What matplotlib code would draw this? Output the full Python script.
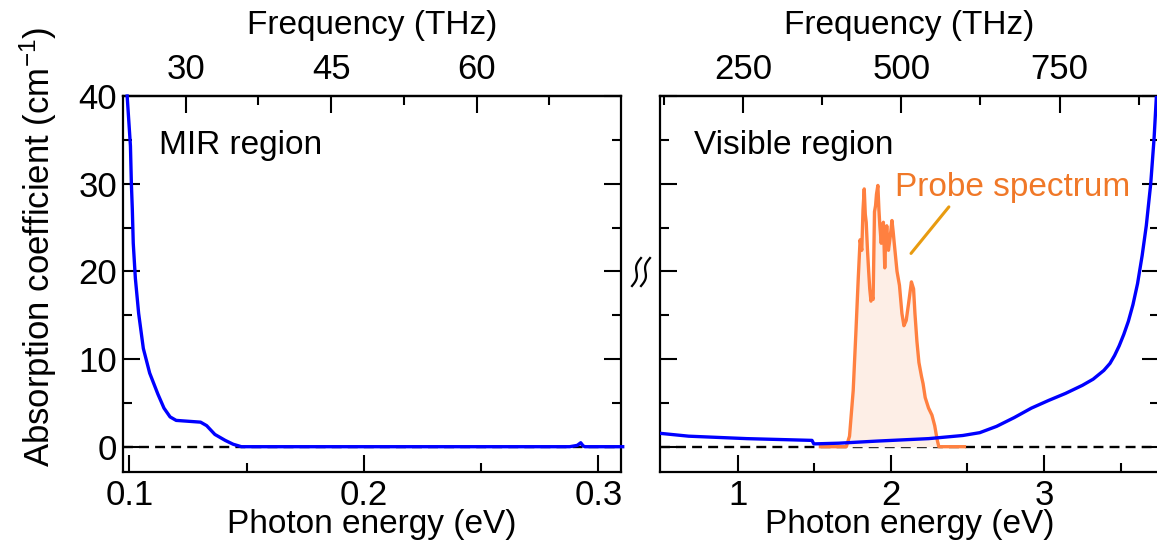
import numpy as np
import matplotlib
matplotlib.use("Agg")
import matplotlib.pyplot as plt
from matplotlib.lines import Line2D

plt.rcParams['font.family'] = ['Liberation Sans', 'DejaVu Sans']
plt.rcParams['mathtext.fontset'] = 'custom'
plt.rcParams['mathtext.rm'] = 'Liberation Sans'
plt.rcParams['mathtext.it'] = 'Liberation Sans:italic'

# ---- data ----
mir_energy = [0.0991, 0.1005, 0.1009, 0.1013, 0.1017, 0.1026, 0.104, 0.106, 0.1087,
              0.1122, 0.1148, 0.1174, 0.120, 0.1252, 0.1304, 0.133, 0.1365, 0.1409,
              0.1443, 0.1478, 0.20, 0.25, 0.2878, 0.2910, 0.2925, 0.2935, 0.2943, 0.3104]
mir_alpha = [40.0, 34.3, 30.0, 27.1, 23.2, 19.2, 15.2, 11.2, 8.4,
             6.0, 4.4, 3.4, 3.0, 2.9, 2.8, 2.4, 1.4, 0.72,
             0.28, 0.0, 0.0, 0.0, 0.0, 0.15, 0.45, 0.1, 0.0, 0.0]

vis_energy = [0.497, 0.68, 1.06, 1.485, 1.497, 1.66, 1.91, 2.246, 2.47, 2.58, 2.69,
              2.805, 2.917, 3.03, 3.14, 3.25, 3.32, 3.39, 3.43, 3.46, 3.49, 3.52,
              3.55, 3.58, 3.61, 3.64, 3.667, 3.696, 3.718, 3.733]
vis_alpha = [1.52, 1.2, 0.92, 0.72, 0.32, 0.4, 0.64, 0.92, 1.28, 1.6, 2.32,
             3.32, 4.4, 5.28, 6.08, 7.0, 7.7, 8.7, 9.5, 10.4, 11.5, 12.8,
             14.3, 16.2, 18.6, 21.8, 25.2, 30.0, 35.2, 40.0]

probe_energy = [1.54, 1.709, 1.73, 1.754, 1.772, 1.787, 1.799, 1.81, 1.818, 1.826, 1.833,
                1.839, 1.847, 1.855, 1.862, 1.87, 1.877, 1.884, 1.893, 1.900, 1.906,
                1.915, 1.922, 1.928, 1.937, 1.944, 1.951, 1.96, 1.966, 1.973,
                1.984, 1.996, 2.007, 2.015, 2.022, 2.04, 2.056, 2.072, 2.085, 2.1,
                2.116, 2.134, 2.148, 2.157, 2.17, 2.183, 2.2, 2.21, 2.224, 2.246,
                2.268, 2.286, 2.302, 2.313, 2.48]
probe_amp = [0.0, 0.0, 1.2, 6.4, 13.2, 19.2, 23.6, 22.4, 27.0, 29.4, 26.5,
             25.6, 22.5, 20.0, 18.0, 16.6, 17.2, 16.8, 26.8, 27.5, 28.8,
             29.8, 27.0, 25.2, 23.2, 25.0, 25.6, 20.4, 23.5, 25.2,
             22.4, 24.0, 25.8, 24.5, 23.2, 20.0, 18.4, 15.2, 13.8, 14.4,
             16.4, 18.8, 18.0, 15.2, 12.0, 9.6, 8.0, 7.2, 5.6, 4.4,
             3.6, 2.4, 0.8, 0.0, 0.0]

mir_freq_major = [30, 45, 60]
mir_freq_minor = [37.5, 52.5, 67.5]
vis_freq_major = [250, 500, 750]
vis_freq_minor = [125, 375, 625, 875]
THZ_PER_EV = 241.799

W, H = 1157, 547
fig = plt.figure(figsize=(W / 100, H / 100), dpi=100)

axL = fig.add_axes([122.7 / W, (H - 472.3) / H, 498.6 / W, 376.3 / H])
axR = fig.add_axes([660.0 / W, (H - 472.3) / H, 499.0 / W, 376.3 / H])

TFS = 25   # tick labels
LFS = 24   # axis labels / texts
BLUE = '#0000FF'
DASH = (0, (4.2, 2.6))

def style(ax):
    for s in ax.spines.values():
        s.set_linewidth(1.6)
    ax.tick_params(which='both', direction='in', left=True, right=True,
                   top=False, bottom=True, width=1.5, labelsize=TFS)
    ax.tick_params(which='major', length=12)
    ax.tick_params(which='minor', length=6.5)
    ax.set_ylim(-2.92, 40)
    ax.set_yticks([0, 10, 20, 30, 40])
    ax.set_yticks([5, 15, 25, 35], minor=True)

def top_axis(ax, major, minor):
    sec = ax.secondary_xaxis('top', functions=(lambda e: e * THZ_PER_EV,
                                                lambda f: f / THZ_PER_EV))
    sec.set_xticks(major)
    sec.set_xticks(minor, minor=True)
    sec.tick_params(which='both', direction='in', width=1.5, labelsize=TFS, pad=7)
    sec.tick_params(which='major', length=12)
    sec.tick_params(which='minor', length=6.5)
    sec.spines['top'].set_linewidth(1.6)
    sec.set_xlabel('Frequency (THz)', fontsize=LFS, labelpad=14)
    return sec

# ---- left panel (MIR) ----
style(axL)
axL.set_xlim(0.0972, 0.3098)
axL.set_xticks([0.1, 0.2, 0.3])
axL.set_xticklabels(['0.1', '0.2', '0.3'])
axL.set_xticks([0.15, 0.25], minor=True)
axL.tick_params(axis='y', pad=4)
axL.axhline(0, color='black', lw=1.7, ls=DASH, zorder=1)
axL.plot(mir_energy, mir_alpha, color=BLUE, lw=2.4, zorder=3, clip_on=False)
axL.set_xlabel('Photon energy (eV)', fontsize=LFS, labelpad=-2)
axL.set_ylabel('Absorption coefficient (cm$^{-1}$)', fontsize=25)
axL.yaxis.set_label_coords(-0.127, 0.6)
axL.tick_params(axis='x', pad=5)
top_axis(axL, mir_freq_major, mir_freq_minor)
axL.text(0.1128, 34.3, 'MIR region', fontsize=LFS, va='center', ha='left')

# ---- right panel (visible) ----
style(axR)
axR.set_xlim(0.493, 3.75)
axR.set_xticks([1, 2, 3])
axR.set_xticks([1.5, 2.5, 3.5], minor=True)
axR.tick_params(axis='y', labelleft=False)
axR.tick_params(axis='x', pad=5)
axR.axhline(0, color='black', lw=1.7, ls=DASH, zorder=1)
axR.fill_between(probe_energy, 0, probe_amp, color='#FDEEE6', lw=0, zorder=1.5)
axR.plot(probe_energy, probe_amp, color='#FF8040', lw=2.4, zorder=2)
axR.plot(vis_energy, vis_alpha, color=BLUE, lw=2.4, zorder=3)
axR.set_xlabel('Photon energy (eV)', fontsize=LFS, labelpad=-2)
top_axis(axR, vis_freq_major, vis_freq_minor)
axR.text(0.712, 34.3, 'Visible region', fontsize=LFS, va='center', ha='left')
axR.text(2.03, 29.6, 'Probe spectrum', fontsize=LFS, va='center', ha='left', color='#F07828')
axR.annotate('', xy=(2.12, 21.8), xytext=(2.39, 27.6),
             arrowprops=dict(arrowstyle='-', color='#E89B10', lw=2.2))

# ---- axis break symbol between panels ----
for dx in (-4.5, 4.5):
    t = np.linspace(-1, 1, 40)
    xs = 641 + dx - 4.5 * t + 2.2 * np.sin(np.pi * t)
    ys = 272 + 14 * t
    fig.add_artist(Line2D(xs / W, (H - ys) / H, color='black', lw=1.6,
                          transform=fig.transFigure))

fig.savefig('out.png', dpi=100)
